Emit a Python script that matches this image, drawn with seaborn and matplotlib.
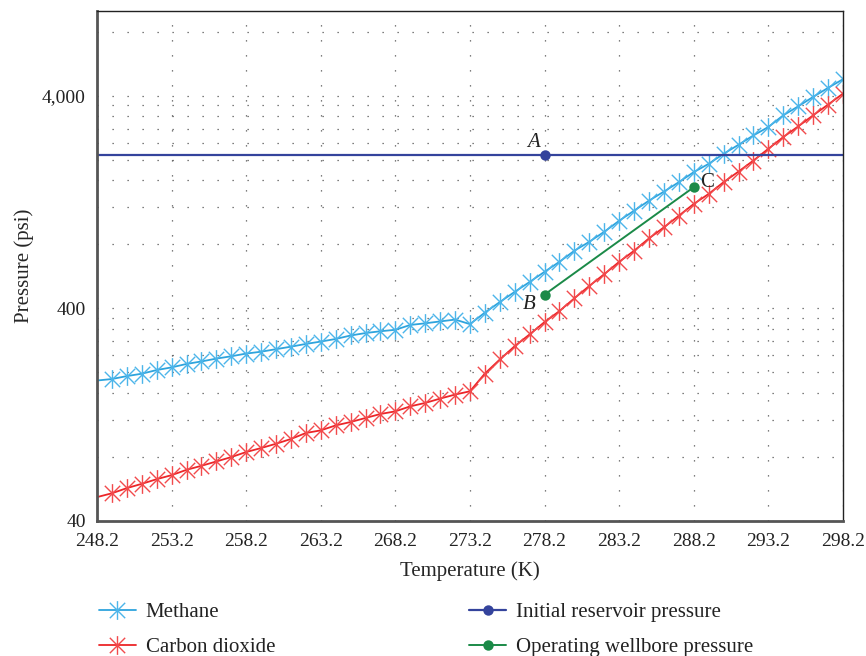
import numpy as np
import pandas as pd
import seaborn as sns
import matplotlib.pyplot as plt
from matplotlib.path import Path
from matplotlib.ticker import FixedLocator, FixedFormatter, NullFormatter

# temperature grid (K) - first point only starts the line, markers from 249.2 on
temp = [248.2, 249.2, 250.2, 251.2, 252.2, 253.2, 254.2, 255.2, 256.2, 257.2,
        258.2, 259.2, 260.2, 261.2, 262.2, 263.2, 264.2, 265.2, 266.2, 267.2,
        268.2, 269.2, 270.2, 271.2, 272.2, 273.2, 274.2, 275.2, 276.2, 277.2,
        278.2, 279.2, 280.2, 281.2, 282.2, 283.2, 284.2, 285.2, 286.2, 287.2,
        288.2, 289.2, 290.2, 291.2, 292.2, 293.2, 294.2, 295.2, 296.2, 297.2,
        298.2]

# hydrate equilibrium pressure (psi)
methane = [183, 186, 192, 197, 205, 211, 219, 225, 232, 238,
           245, 250, 257, 264, 272, 279, 287, 298, 306, 312,
           317, 334, 340, 347, 354, 337, 382, 428, 478, 532,
           594, 662, 746, 822, 916, 1032, 1151, 1283, 1415, 1567,
           1747, 1911, 2130, 2349, 2599, 2848, 3231, 3561, 3944, 4349,
           4776]
co2 = [51.8, 54.0, 57.1, 59.8, 62.9, 65.7, 69.6, 72.7, 76.2, 79.9,
       84.4, 88.1, 92.3, 97.2, 103.7, 106.7, 112.6, 116.8, 122, 127.4,
       131.1, 138.4, 143.6, 150.5, 157.2, 162.9, 197.4, 229.8, 265.6, 301.6,
       344.8, 388.4, 446, 509.7, 578.8, 661.6, 745.7, 852.9, 961, 1090,
       1238, 1380, 1567, 1758, 1981, 2249, 2554, 2866, 3231, 3628,
       4087]

# initial reservoir pressure line, point A on it
res_temp = [248.2, 278.2, 298.2]
res_press = [2110, 2110, 2110]
# operating wellbore pressure B -> C
well_temp = [278.2, 288.2]
well_press = [464, 1484]

xticks = [248.2, 253.2, 258.2, 263.2, 268.2, 273.2, 278.2, 283.2, 288.2, 293.2, 298.2]
xticklabels = ["248.2", "253.2", "258.2", "263.2", "268.2", "273.2",
               "278.2", "283.2", "288.2", "293.2", "298.2"]
yticks = [40, 400, 4000]
yticklabels = ["40", "400", "4,000"]

df = pd.DataFrame({"T": temp, "Methane": methane, "CO2": co2})

sns.set_style("white")
plt.rcParams["font.family"] = ["Liberation Serif", "DejaVu Serif"]
plt.rcParams["text.color"] = "#222222"

fig = plt.figure(figsize=(8.66, 6.56), dpi=100)
ax = fig.add_axes([0.112, 0.2058, 0.8614, 0.7775])

# asterisk: vertical bar plus an X at 45 deg
d = 0.82
star = Path([(0, -1), (0, 1), (-d, -d), (d, d), (-d, d), (d, -d)],
            [Path.MOVETO, Path.LINETO] * 3)

sns.lineplot(data=df, x="T", y="Methane", ax=ax, color="#2ea4dd", lw=1.3,
             marker=star, markersize=13.5, markeredgewidth=1.0, markerfacecolor="none",
             markeredgecolor="#4cb5ea", markevery=slice(1, None), label="Methane")
sns.lineplot(data=df, x="T", y="CO2", ax=ax, color="#ec2528", lw=1.3,
             marker=star, markersize=13.5, markeredgewidth=1.0, markerfacecolor="none",
             markeredgecolor="#f24a4c", markevery=slice(1, None), label="Carbon dioxide")
sns.lineplot(x=res_temp, y=res_press, ax=ax, color="#34439c", lw=1.6,
             marker="o", markersize=7.5, markeredgewidth=0, markevery=[1],
             label="Initial reservoir pressure")
sns.lineplot(x=well_temp, y=well_press, ax=ax, color="#1b8a48", lw=1.4,
             marker="o", markersize=7.5, markeredgewidth=0,
             label="Operating wellbore pressure")

ax.annotate("A", (res_temp[1], res_press[1]), xytext=(-8, 9), textcoords="offset points",
            ha="center", va="center", fontsize=15, style="italic")
ax.annotate("B", (well_temp[0], well_press[0]), xytext=(-11, -7), textcoords="offset points",
            ha="center", va="center", fontsize=15, style="italic")
ax.annotate("C", (well_temp[1], well_press[1]), xytext=(9.5, 3.5), textcoords="offset points",
            ha="center", va="center", fontsize=15)

ax.set_yscale("log")
ax.set_xlim(248.2, 298.2)
ax.set_ylim(40, 10000)

ax.xaxis.set_major_locator(FixedLocator(xticks))
ax.xaxis.set_major_formatter(FixedFormatter(xticklabels))
ax.yaxis.set_major_locator(FixedLocator(yticks))
ax.yaxis.set_major_formatter(FixedFormatter(yticklabels))
yminor = [k * d for d in [40, 400, 4000] for k in range(2, 10) if k * d < 10000]
ax.yaxis.set_minor_locator(FixedLocator(yminor))
ax.yaxis.set_minor_formatter(NullFormatter())
ax.xaxis.set_minor_locator(FixedLocator([]))

ax.tick_params(axis="both", which="both", direction="in", labelsize=14,
               labelcolor="#222222", color="#444444")
ax.tick_params(axis="y", which="major", length=5, pad=8)
ax.tick_params(axis="y", which="minor", length=3)
ax.tick_params(axis="x", which="major", length=0, pad=9)

dots = (0, (1, 11))
ax.grid(which="both", axis="y", ls=dots, color="#555555", lw=0.9)
ax.grid(which="major", axis="x", ls=dots, color="#555555", lw=0.9)

for side in ["left", "bottom"]:
    ax.spines[side].set_linewidth(2.0)
    ax.spines[side].set_color("#555555")
for side in ["top", "right"]:
    ax.spines[side].set_linewidth(1.0)
    ax.spines[side].set_color("#222222")

ax.set_xlabel("Temperature (K)", fontsize=15, labelpad=8)
ax.set_ylabel("Pressure (psi)", fontsize=15, labelpad=6)

handles, labels = ax.get_legend_handles_labels()
if ax.get_legend():
    ax.get_legend().remove()
fig.legend(handles, labels, loc="upper left", bbox_to_anchor=(0.114, 0.081),
           ncol=2, frameon=False, fontsize=15, handlelength=1.8,
           handletextpad=0.45, columnspacing=9.3, labelspacing=0.72,
           borderpad=0, borderaxespad=0)

fig.savefig("out.png", dpi=100)
